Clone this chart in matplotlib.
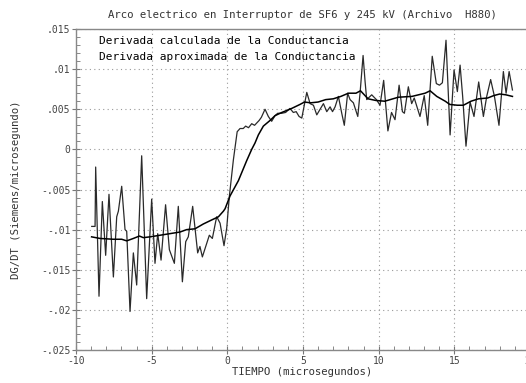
import matplotlib
matplotlib.use("Agg")
import matplotlib.pyplot as plt
from matplotlib.ticker import MultipleLocator, FixedLocator, FixedFormatter

# DG/DT calculated from the measured conductance (noisy trace)
calc_t = [-8.96, -8.74, -8.70, -8.48, -8.26, -8.04, -7.82, -7.53, -7.31, -7.20,
          -6.98, -6.76, -6.65, -6.43, -6.21, -5.99, -5.66, -5.33, -5.00, -4.78,
          -4.60, -4.38, -4.08, -3.83, -3.50, -3.24, -2.97, -2.75, -2.58, -2.29,
          -1.96, -1.81, -1.65, -1.36, -1.19, -0.99, -0.77, -0.70, -0.48, -0.22,
          -0.04, 0.13, 0.40, 0.65, 0.84, 1.05, 1.21, 1.40, 1.61, 1.80,
          1.95, 2.10, 2.25, 2.49, 2.71, 2.93, 3.15, 3.33, 3.60, 3.85,
          4.14, 4.36, 4.55, 4.74, 4.92, 5.25, 5.47, 5.69, 5.91, 6.13,
          6.35, 6.57, 6.79, 6.95, 7.12, 7.34, 7.56, 7.73, 7.95, 8.11,
          8.33, 8.62, 8.77, 8.97, 9.10, 9.21, 9.54, 9.85, 10.09, 10.33,
          10.61, 10.85, 11.08, 11.35, 11.57, 11.70, 11.96, 12.18, 12.35, 12.73,
          13.01, 13.24, 13.54, 13.81, 14.02, 14.21, 14.45, 14.72, 14.98, 15.20,
          15.38, 15.55, 15.77, 16.04, 16.30, 16.61, 16.92, 17.14, 17.40, 17.65,
          17.95, 18.24, 18.42, 18.62, 18.84]
calc_v = [-0.0096, -0.0096, -0.0022, -0.0183, -0.0065, -0.0132, -0.0056, -0.0159, -0.0084, -0.0077,
          -0.0046, -0.0100, -0.0102, -0.0202, -0.0129, -0.0169, -0.0008, -0.0186, -0.0062, -0.0142,
          -0.0105, -0.0138, -0.0069, -0.0125, -0.0142, -0.0071, -0.0165, -0.0115, -0.0109, -0.0071,
          -0.0129, -0.0121, -0.0134, -0.0117, -0.0107, -0.0111, -0.0090, -0.0084, -0.0092, -0.0120,
          -0.0098, -0.0059, -0.0013, 0.0022, 0.0026, 0.0026, 0.0029, 0.0027, 0.0032, 0.0030,
          0.0033, 0.0036, 0.0040, 0.0050, 0.0041, 0.0035, 0.0042, 0.0045, 0.0045, 0.0046,
          0.0051, 0.0046, 0.0047, 0.0041, 0.0039, 0.0071, 0.0057, 0.0055, 0.0043, 0.0050,
          0.0057, 0.0047, 0.0053, 0.0047, 0.0053, 0.0066, 0.0045, 0.0030, 0.0070, 0.0062,
          0.0058, 0.0041, 0.0070, 0.0117, 0.0085, 0.0062, 0.0068, 0.0062, 0.0055, 0.0086,
          0.0023, 0.0046, 0.0037, 0.0080, 0.0047, 0.0045, 0.0078, 0.0057, 0.0064, 0.0041,
          0.0067, 0.0030, 0.0116, 0.0082, 0.0080, 0.0083, 0.0136, 0.0018, 0.0099, 0.0072,
          0.0105, 0.0066, 0.0004, 0.0059, 0.0041, 0.0084, 0.0041, 0.0066, 0.0087, 0.0066,
          0.0030, 0.0097, 0.0070, 0.0097, 0.0074]

# DG/DT from the fitted (approximate) conductance (smooth trace)
aprox_t = [-8.97, -8.41, -7.53, -6.98, -6.65, -6.21, -5.81, -5.55, -5.11, -4.45,
           -3.79, -3.13, -2.69, -2.14, -1.59, -1.04, -0.59, -0.26, -0.15, 0.18,
           0.73, 1.28, 1.61, 1.83, 2.05, 2.38, 2.82, 3.15, 3.60, 4.25,
           4.80, 5.10, 5.50, 6.00, 6.50, 7.00, 7.50, 8.00, 8.50, 8.80,
           9.30, 9.80, 10.40, 11.30, 12.20, 13.07, 13.40, 13.84, 14.40, 14.70,
           15.20, 15.60, 16.10, 16.60, 17.20, 17.60, 18.00, 18.40, 18.84]
aprox_v = [-0.0109, -0.0111, -0.0112, -0.0112, -0.0114, -0.0111, -0.0108, -0.0110, -0.0109, -0.0107,
           -0.0105, -0.0103, -0.0100, -0.0099, -0.0093, -0.0088, -0.0084, -0.0077, -0.0074, -0.0058,
           -0.0039, -0.0014, 0.0000, 0.0008, 0.0018, 0.0029, 0.0036, 0.0042, 0.0046, 0.0051,
           0.0056, 0.0059, 0.0058, 0.0059, 0.0062, 0.0063, 0.0066, 0.0070, 0.0070, 0.0073,
           0.0063, 0.0061, 0.0060, 0.0065, 0.0066, 0.0070, 0.0073, 0.0066, 0.0060, 0.0056,
           0.0055, 0.0055, 0.0060, 0.0063, 0.0064, 0.0067, 0.0069, 0.0068, 0.0066]

x_ticks = [-10, -5, 0, 5, 10, 15, 20]
x_labels = ["-10", "-5", "0", "5", "10", "15", "20"]
y_ticks = [0.015, 0.01, 0.005, 0, -0.005, -0.01, -0.015, -0.02, -0.025]
y_labels = [".015", ".01", ".005", "0", "-.005", "-.01", "-.015", "-.02", "-.025"]

plt.rcParams["font.family"] = ["DejaVu Sans Mono"]

W, H = 526, 383
fig = plt.figure(figsize=(W / 100, H / 100), dpi=100)
ax = fig.add_axes([76 / W, 1 - 350 / H, (530 - 76) / W, (350 - 29) / H])

ax.plot(calc_t, calc_v, color="#2a2a2a", lw=0.9)
ax.plot(aprox_t, aprox_v, color="black", lw=1.1)

ax.set_xlim(-10, 20)
ax.set_ylim(-0.025, 0.015)

ax.xaxis.set_major_locator(FixedLocator(x_ticks))
ax.xaxis.set_major_formatter(FixedFormatter(x_labels))
ax.yaxis.set_major_locator(FixedLocator(y_ticks))
ax.yaxis.set_major_formatter(FixedFormatter(y_labels))
ax.xaxis.set_minor_locator(MultipleLocator(1))
ax.yaxis.set_minor_locator(MultipleLocator(0.001))

ax.tick_params(which="major", direction="inout", length=6, width=0.8,
               color="#777777", labelsize=7, labelcolor="#444444", pad=1)
ax.tick_params(which="minor", direction="in", length=3, width=0.7, color="#888888")

for sp in ax.spines.values():
    sp.set_color("#888888")
    sp.set_linewidth(1.0)

ax.grid(True, which="major", color="#9a9a9a", lw=0.8, linestyle=(0, (1, 3)))

ax.text(0.05, 0.963, "Derivada calculada de la Conductancia", transform=ax.transAxes,
        fontsize=8, color="black", va="center", ha="left")
ax.text(0.05, 0.913, "Derivada aproximada de la Conductancia", transform=ax.transAxes,
        fontsize=8, color="black", va="center", ha="left")

fig.text(302 / W, 1 - 15 / H, "Arco electrico en Interruptor de SF6 y 245 kV (Archivo  H880)",
         fontsize=7.7, color="#333333", ha="center", va="center")
fig.text(302 / W, 1 - 372 / H, "TIEMPO (microsegundos)",
         fontsize=7.7, color="#333333", ha="center", va="center")
fig.text(16 / W, 1 - 190 / H, "DG/DT (Siemens/microsegundo)",
         fontsize=7.7, color="#333333", ha="center", va="center", rotation=90)

fig.savefig("out.png", dpi=100)
